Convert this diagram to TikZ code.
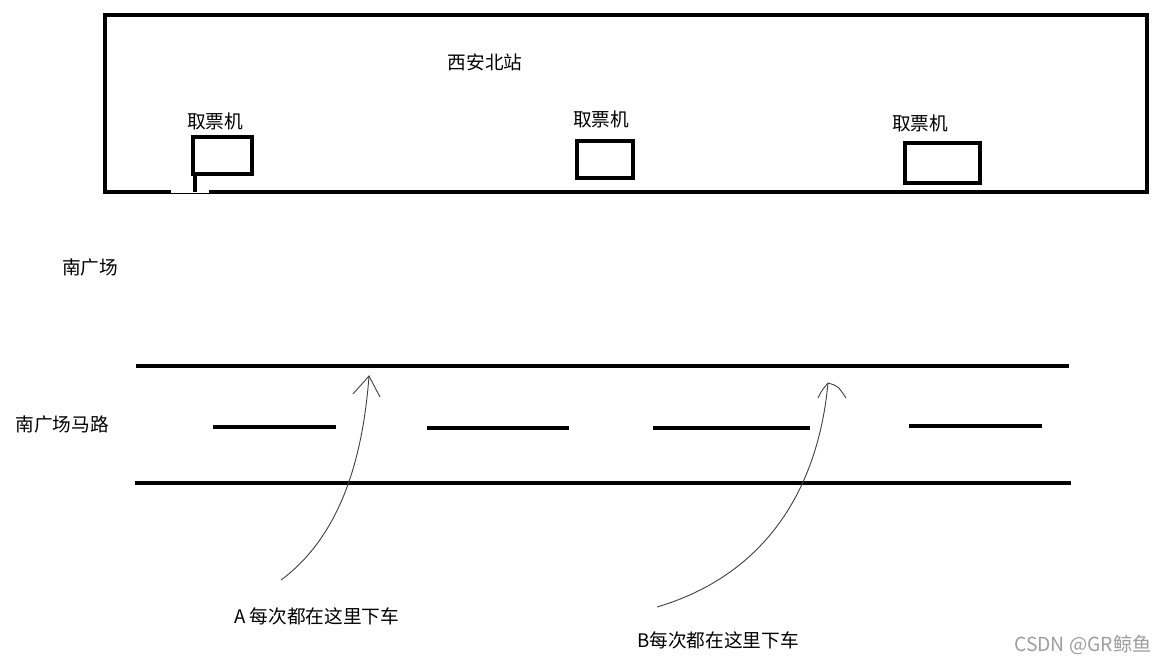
\documentclass[tikz,border=0pt]{standalone}
\usepackage{fontspec}
\setmainfont{Noto Sans CJK SC}
\begin{document}
\begin{tikzpicture}[x=0.75pt,y=-0.75pt,
  thick/.style={line width=3.2pt*0.75},
  road/.style={line width=3.2pt*0.75},
  lbl/.style={font=\fontsize{14}{16}\selectfont, inner sep=0pt},
  hand/.style={line width=0.9pt*0.75, draw=black!75},
  wm/.style={font=\fontsize{14.5}{16}\selectfont, text=black!38, inner sep=0pt}]
\useasboundingbox[fill=white] (0,0) rectangle (1155,666);
% station
\draw[thick] (105,15) rectangle (1147,192);
\draw[white, line width=3.4pt*0.75] (171,192) -- (209,192);
\draw[line width=0.8pt*0.75] (171,193) -- (209,193);
\node[lbl] (title) at (485,62) {西安北站};
\node[lbl] (l1) at (215,121) {取票机};
\node[lbl] (l2) at (601,119) {取票机};
\node[lbl] (l3) at (920,123) {取票机};
\node[thick, draw, minimum width=59*0.75pt, minimum height=37*0.75pt, inner sep=0pt] (m1) at (222.5,155.5) {};
\node[thick, draw, minimum width=56*0.75pt, minimum height=37*0.75pt, inner sep=0pt] (m2) at (605,159.5) {};
\node[thick, draw, minimum width=75*0.75pt, minimum height=40*0.75pt, inner sep=0pt] (m3) at (942.5,163) {};
\coordinate (stub) at (195,192);
\draw[thick] (m1.south west -| stub) -- (stub);
% square
\node[lbl] (sq) at (90,267) {南广场};
% road
\node[lbl] (rd) at (62,424) {南广场马路};
\coordinate (rt1) at (136,366); \coordinate (rt2) at (1069,366);
\coordinate (rb1) at (135,483); \coordinate (rb2) at (1071,483);
\draw[road] (rt1) -- (rt2);
\draw[road] (rb1) -- (rb2);
\coordinate (d1a) at (213,427); \coordinate (d1b) at (336,427);
\coordinate (d2a) at (427,428); \coordinate (d2b) at (569,428);
\coordinate (d3a) at (653,428); \coordinate (d3b) at (810,428);
\coordinate (d4a) at (909,426); \coordinate (d4b) at (1042,426);
\draw[road] (d1a) -- (d1b);
\draw[road] (d2a) -- (d2b);
\draw[road] (d3a) -- (d3b);
\draw[road] (d4a) -- (d4b);
% arrows
\coordinate (aS) at (281,580); \coordinate (aT) at (369,376);
\coordinate (aL) at (353,394); \coordinate (aR) at (380,397);
\draw[hand] (aS) .. controls (335,540) and (362,470) .. (aT);
\draw[hand] (aL) -- (aT) -- (aR);
\coordinate (bS) at (657,607); \coordinate (bT) at (828,383);
\coordinate (bL) at (818,398); \coordinate (bR) at (846,398);
\draw[hand] (bS) .. controls (765,575) and (818,490) .. (bT);
\draw[hand] (bL) .. controls (822,390) .. (bT) .. controls (838,386) .. (bR);
\node[lbl, anchor=west] (la) at (234,616) {A 每次都在这里下车};
\node[lbl, anchor=west] (lb) at (637,640) {B每次都在这里下车};
\node[wm, anchor=east] (wmk) at (1152,645) {CSDN @GR鲸鱼};
\end{tikzpicture}
\end{document}
